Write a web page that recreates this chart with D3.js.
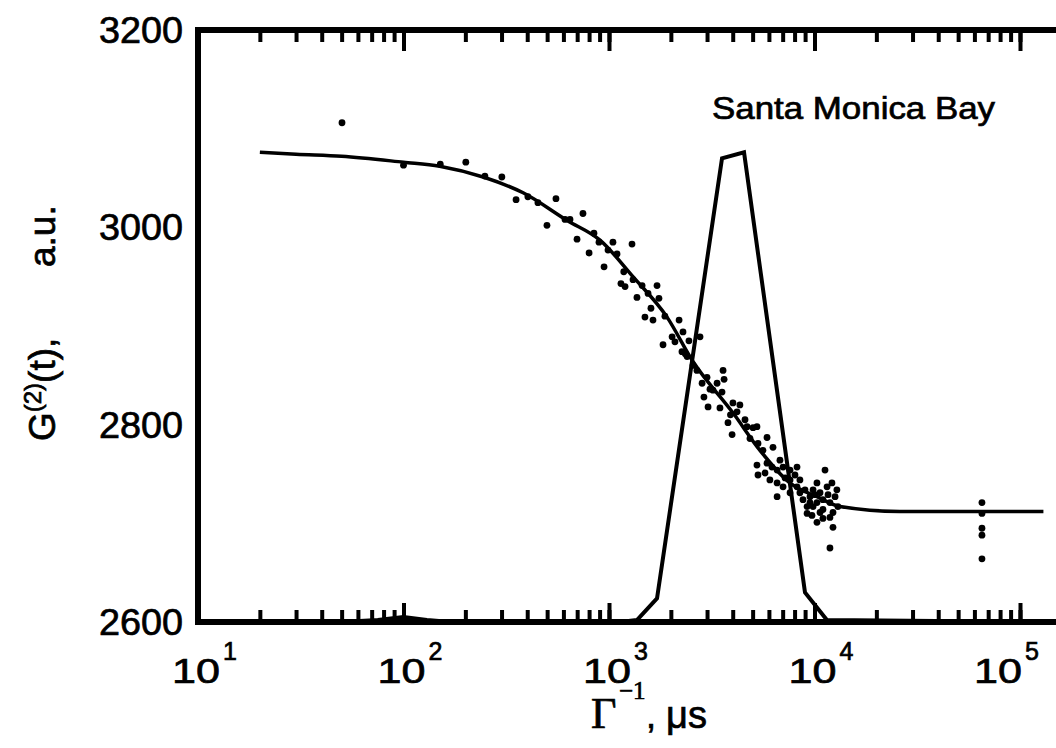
<!DOCTYPE html>
<html>
<head>
<meta charset="utf-8">
<script src="https://cdn.jsdelivr.net/npm/d3@7"></script>
<style>
  body { margin: 0; background: #fff; }
  svg { display: block; }
  text { font-family: "Liberation Sans", Arial, Helvetica, sans-serif; fill: #000; stroke: #000; stroke-width: 0.7; }
</style>
</head>
<body>
<svg id="chart" width="1056" height="748"></svg>
<script>
// fitted correlation curve (x in microseconds)
const fitX = [20, 30, 50, 100, 150, 244, 382, 625, 904, 1308, 1916, 2563, 4010, 5427, 7590, 10280, 13300, 26000, 130000];
const fitY = [3076, 3074, 3072, 3066, 3062, 3051, 3035, 3007, 2987, 2950, 2909, 2864, 2812, 2774, 2741, 2727, 2717, 2712, 2712];

// size distribution (drawn on the same axis, baseline = 2600)
const distX = [10, 50, 75, 100, 130, 170, 1130, 1368, 1713, 3548, 4540, 8990, 11490, 130000];
const distY = [2600, 2600, 2602, 2605, 2602, 2600, 2600, 2602, 2624, 3070, 3076, 2630, 2602, 2600];

// measured points
const dotX = [50.2, 100, 151, 201, 249, 301, 353, 403, 451, 552,
  499, 611, 646, 747, 699, 845, 894, 1045, 989, 1094,
  800, 946, 1294, 1143, 1197, 1309, 1449, 1713, 1368, 1549,
  1750, 1496, 1637, 1871, 2193, 2028, 2094, 2291, 2449, 1832,
  2265, 2399, 2564, 2773, 2838, 2897, 2999, 3034, 3206, 3357,
  3589, 3631, 3548, 3467, 3793, 3972, 4009, 4335, 4198, 4697,
  5023, 5248, 4853, 5309, 5875, 6281, 5248, 5309, 5875, 5741,
  6209, 6577, 7031, 7603, 8222, 6067, 6577, 7031, 6577, 7603,
  8222, 7603, 8492, 8790, 9204, 9506, 9840, 10280, 10640, 11250,
  10990, 11890, 11510, 12160, 12850, 12590, 13000, 12300, 11890, 10990,
  10280, 10640, 9840, 9204, 12300, 11890, 9506, 10280,
  65300, 65300, 65300, 65300, 65300, 2679,
  8990, 10050, 10990, 9720, 11640, 8492, 8035, 7194, 4590, 5610, 6790,
  1180, 1600, 2350, 3100, 3900];
const dotY = [3106, 3063, 3064, 3066, 3052, 3051, 3028, 3031, 3025, 3029,
  3002, 3008, 3008, 3014, 2988, 2994, 2985, 2985, 2977, 2973,
  2974, 2960, 2983, 2943, 2940, 2947, 2941, 2941, 2929, 2933,
  2928, 2909, 2906, 2910, 2906, 2889, 2884, 2894, 2885, 2881,
  2874, 2869, 2860, 2889, 2842, 2828, 2848, 2818, 2835, 2842,
  2855, 2846, 2833, 2817, 2802, 2790, 2822, 2820, 2813, 2798,
  2797, 2798, 2786, 2781, 2787, 2777, 2759, 2749, 2761, 2751,
  2757, 2754, 2757, 2754, 2757, 2744, 2741, 2737, 2727, 2744,
  2737, 2731, 2731, 2724, 2717, 2727, 2734, 2741, 2731, 2754,
  2724, 2721, 2737, 2741, 2734, 2727, 2717, 2711, 2706, 2705,
  2701, 2711, 2717, 2710, 2696, 2675, 2721, 2721,
  2721, 2710, 2695, 2688, 2664, 2855,
  2734, 2729, 2714, 2708, 2729, 2744, 2749, 2746, 2805, 2774, 2764,
  2955, 2918, 2872, 2836, 2810];

const yTicks = [2600, 2800, 3000, 3200];
const xDecades = [1, 2, 3, 4, 5];

const svg = d3.select("#chart");

const x = d3.scaleLog().domain([10, 1e5]).range([198, 1020]);
const y = d3.scaleLinear().domain([2600, 3200]).range([622, 30]);

/**
 * Inward ticks on top and bottom edges, minor and decade.
 */
function draw_ticks(axisFn, yPos, minorLen, majorLen) {
    let minor = svg.append("g")
        .attr("transform", `translate(0,${yPos})`)
        .call(axisFn(x).tickValues(x.ticks()).tickSize(minorLen).tickFormat(() => ""));
    let major = svg.append("g")
        .attr("transform", `translate(0,${yPos})`)
        .call(axisFn(x).tickValues(xDecades.map(d => Math.pow(10, d))).tickSize(majorLen).tickFormat(() => ""));
    for (let g of [minor, major]) {
        g.select(".domain").remove();
        g.selectAll(".tick line").attr("stroke", "#000").attr("stroke-width", 4);
    }
}
draw_ticks(d3.axisTop, 30, -12, -21);
draw_ticks(d3.axisBottom, 622, -12, -19);

// frame (left, top, bottom; right edge is cut off)
svg.append("line").attr("x1", 198).attr("x2", 198).attr("y1", 27).attr("y2", 625)
    .attr("stroke", "#000").attr("stroke-width", 6);
svg.append("line").attr("x1", 195).attr("x2", 1056).attr("y1", 30).attr("y2", 30)
    .attr("stroke", "#000").attr("stroke-width", 6);
svg.append("line").attr("x1", 195).attr("x2", 1056).attr("y1", 622).attr("y2", 622)
    .attr("stroke", "#000").attr("stroke-width", 6);

// distribution
let distLine = d3.line().x(d => x(d[0])).y(d => y(d[1]));
svg.append("path")
    .attr("d", distLine(d3.zip(distX, distY)))
    .attr("fill", "none").attr("stroke", "#000").attr("stroke-width", 4)
    .attr("stroke-linejoin", "miter");

// fit curve
let fitLine = d3.line().x(d => x(d[0])).y(d => y(d[1])).curve(d3.curveMonotoneX);
svg.append("path")
    .attr("d", fitLine(d3.zip(fitX, fitY)))
    .attr("fill", "none").attr("stroke", "#000").attr("stroke-width", 3.5);

// points
svg.append("g").selectAll("circle")
    .data(d3.zip(dotX, dotY))
    .join("circle")
    .attr("cx", d => x(d[0]))
    .attr("cy", d => y(d[1]))
    .attr("r", 3.4)
    .attr("fill", "#000");

// y tick labels
svg.append("g").selectAll("text")
    .data(yTicks)
    .join("text")
    .attr("x", 183).attr("y", d => y(d) + 13)
    .attr("text-anchor", "end")
    .attr("font-size", 37)
    .attr("textLength", 84).attr("lengthAdjust", "spacingAndGlyphs")
    .text(d => d);

// x tick labels: 10 with exponent (last one pulled in so it fits)
let shift = d => d === 5 ? -20 : 0;
let xl = svg.append("g").selectAll("g")
    .data(xDecades)
    .join("g");
xl.append("text")
    .attr("x", d => x(Math.pow(10, d)) - 2 + shift(d)).attr("y", 683)
    .attr("text-anchor", "middle")
    .attr("font-size", 35)
    .attr("textLength", 48).attr("lengthAdjust", "spacingAndGlyphs")
    .text("10");
xl.append("text")
    .attr("x", d => x(Math.pow(10, d)) + 25 + shift(d)).attr("y", 660)
    .attr("font-size", 25)
    .text(d => d);

// x axis title
let xt = svg.append("text").attr("x", 591).attr("y", 728);
xt.append("tspan").attr("font-family", "Liberation Serif, Times New Roman, serif").attr("font-size", 44).text("Γ");
xt.append("tspan").attr("font-family", "Liberation Serif, Times New Roman, serif").attr("font-size", 25)
    .attr("x", 619).attr("y", 699).text("−1");
xt.append("tspan").attr("font-size", 36).attr("x", 646).attr("y", 728).text(",");
xt.append("tspan").attr("font-size", 38).attr("x", 666).attr("y", 728).text("μs");

// y axis title
let yt = svg.append("text").attr("transform", "translate(55,441) rotate(-90)").attr("font-size", 37);
yt.append("tspan").text("G");
yt.append("tspan").attr("font-size", 24).attr("dy", -14).text("(2)");
yt.append("tspan").attr("dy", 14).text("(t),");
yt.append("tspan").attr("x", 174).text("a.u.");

// annotation
svg.append("text")
    .attr("x", 712).attr("y", 119)
    .attr("font-size", 31)
    .attr("textLength", 283).attr("lengthAdjust", "spacingAndGlyphs")
    .text("Santa Monica Bay");
</script>
</body>
</html>
